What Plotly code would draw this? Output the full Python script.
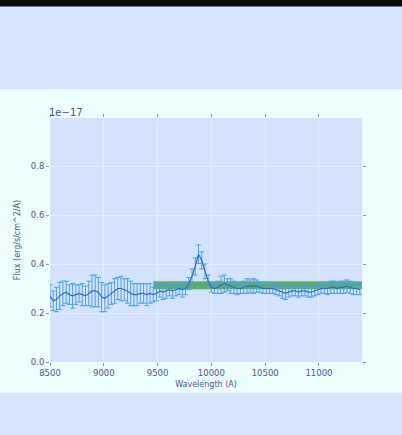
import plotly.graph_objects as go

wavelength = [8500 + 30 * i for i in range(97)]
flux = [0.27, 0.25, 0.255, 0.27, 0.28, 0.285, 0.275, 0.27, 0.275, 0.28,
        0.275, 0.27, 0.28, 0.29, 0.29, 0.285, 0.265, 0.26, 0.27, 0.28,
        0.29, 0.30, 0.30, 0.295, 0.29, 0.28, 0.275, 0.275, 0.28, 0.28,
        0.275, 0.28, 0.275, 0.28, 0.29, 0.285, 0.29, 0.295, 0.29, 0.295,
        0.30, 0.295, 0.30, 0.32, 0.35, 0.39, 0.44, 0.415, 0.37, 0.33,
        0.305, 0.30, 0.305, 0.315, 0.32, 0.315, 0.31, 0.305, 0.30, 0.30,
        0.305, 0.31, 0.31, 0.31, 0.31, 0.305, 0.30, 0.30, 0.30, 0.30,
        0.295, 0.29, 0.285, 0.28, 0.285, 0.29, 0.29, 0.285, 0.29, 0.29,
        0.285, 0.285, 0.29, 0.295, 0.30, 0.30, 0.30, 0.305, 0.305, 0.30,
        0.305, 0.305, 0.31, 0.305, 0.30, 0.30, 0.295]
flux_err = [0.045, 0.04, 0.05, 0.055, 0.05, 0.045, 0.04, 0.05, 0.04, 0.035,
            0.045, 0.04, 0.05, 0.065, 0.065, 0.06, 0.06, 0.055, 0.05, 0.045,
            0.05, 0.045, 0.05, 0.045, 0.05, 0.05, 0.045, 0.045, 0.04, 0.04,
            0.045, 0.04, 0.03, 0.03, 0.025, 0.03, 0.03, 0.025, 0.03, 0.025,
            0.025, 0.03, 0.025, 0.025, 0.03, 0.035, 0.038, 0.035, 0.03, 0.025,
            0.02, 0.02, 0.025, 0.035, 0.035, 0.025, 0.03, 0.025, 0.025, 0.02,
            0.025, 0.03, 0.025, 0.03, 0.025, 0.02, 0.02, 0.02, 0.02, 0.02,
            0.02, 0.02, 0.025, 0.025, 0.02, 0.02, 0.02, 0.02, 0.02, 0.02,
            0.02, 0.02, 0.02, 0.02, 0.02, 0.02, 0.025, 0.025, 0.025, 0.02,
            0.025, 0.025, 0.025, 0.025, 0.025, 0.025, 0.02]

band_x = [9460, 11400]
band_low = [0.297, 0.297]
band_high = [0.330, 0.330]

x_ticks = [8500, 9000, 9500, 10000, 10500, 11000]
x_ticklabels = ["8500", "9000", "9500", "10000", "10500", "11000"]
y_ticks = [0.0, 0.2, 0.4, 0.6, 0.8]
y_ticklabels = ["0.0", "0.2", "0.4", "0.6", "0.8"]

font_color = "#4a5888"
fig = go.Figure()

fig.add_trace(go.Scatter(
    x=band_x, y=band_low, mode="lines", line=dict(width=0, color="rgba(0,0,0,0)"),
    hoverinfo="skip", showlegend=False))
fig.add_trace(go.Scatter(
    x=band_x, y=band_high, mode="lines", line=dict(width=0, color="rgba(0,0,0,0)"),
    fill="tonexty", fillcolor="rgba(44,150,60,0.72)", hoverinfo="skip", showlegend=False))

fig.add_trace(go.Scatter(
    x=wavelength, y=flux, mode="lines",
    line=dict(color="#2f6fae", width=1.2),
    error_y=dict(type="data", array=flux_err, visible=True,
                 color="#4f9fe2", thickness=1, width=2.5),
    showlegend=False))

# page background stripes
fig.add_shape(type="rect", xref="paper", yref="paper",
              x0=-0.2, x1=1.3, y0=(435 - 393 - 73) / 245, y1=(435 - 88 - 73) / 245,
              fillcolor="#effeff", line=dict(width=0), layer="below")
fig.add_shape(type="rect", xref="paper", yref="paper",
              x0=-0.2, x1=1.3, y0=(435 - 5 - 73) / 245, y1=(435 - 73) / 245 + 0.1,
              fillcolor="#0c0c0c", line=dict(width=0), layer="below")
# plot area background
fig.add_shape(type="rect", xref="paper", yref="paper",
              x0=0, x1=1, y0=0, y1=1,
              fillcolor="#d3e3fb", line=dict(width=0), layer="below")

fig.add_annotation(text="1e\u221217", xref="paper", yref="paper", x=0, y=1.0,
                   xanchor="left", yanchor="bottom", showarrow=False,
                   font=dict(family="DejaVu Sans", size=10, color=font_color),
                   yshift=-2, xshift=-3)

axis_common = dict(showgrid=True, gridcolor="rgba(255,255,255,0.4)", gridwidth=1,
                   zeroline=False, showline=False, ticks="outside", ticklen=3,
                   tickcolor="#8890a8", mirror="ticks",
                   tickfont=dict(family="DejaVu Sans", size=8.5, color=font_color))

fig.update_layout(
    width=402, height=435,
    margin=dict(l=50, r=40, t=118, b=73),
    paper_bgcolor="#d6e6ff",
    plot_bgcolor="rgba(0,0,0,0)",
    font=dict(family="DejaVu Sans", size=8, color=font_color),
    xaxis=dict(range=[8500, 11400], tickvals=x_ticks, ticktext=x_ticklabels,
               title=dict(text="Wavelength (A)", font=dict(size=8, color=font_color), standoff=4),
               **axis_common),
    yaxis=dict(range=[0, 0.996], tickvals=y_ticks, ticktext=y_ticklabels,
               title=dict(text="Flux (erg/s/cm^2/A)", font=dict(size=8, color=font_color), standoff=8),
               **axis_common),
)

fig.write_html("out.html")
